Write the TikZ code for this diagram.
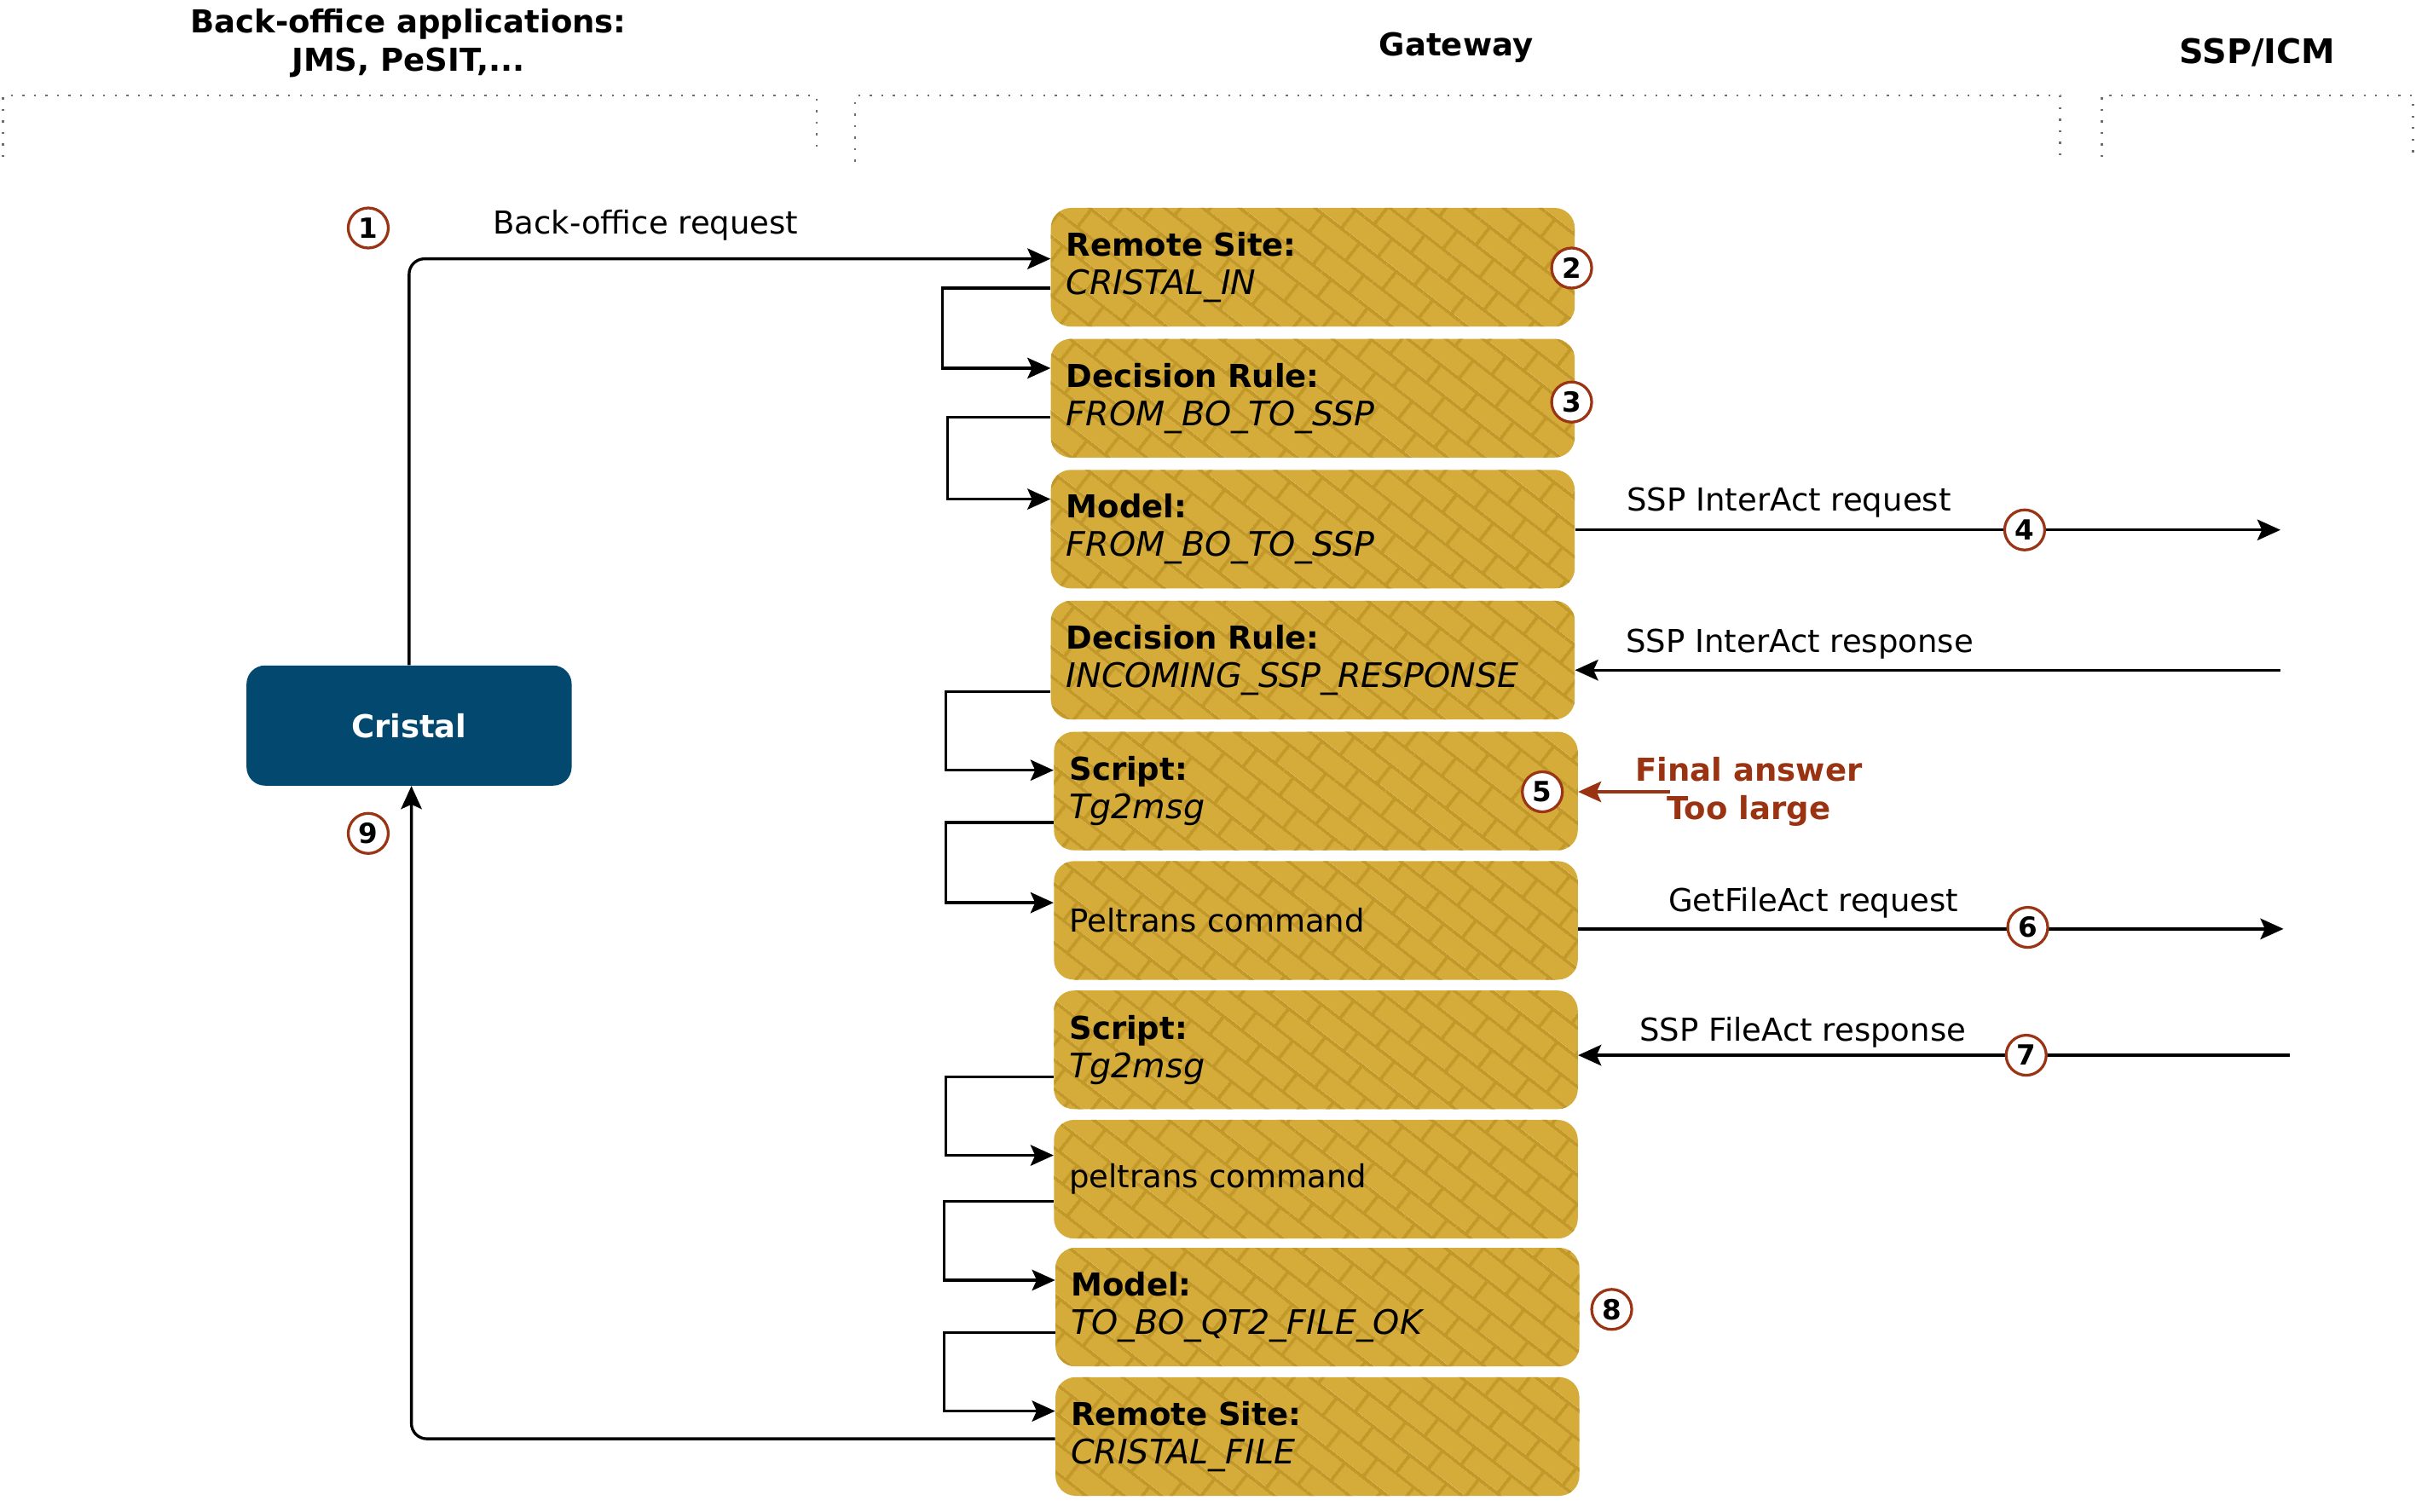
\documentclass[tikz,border=0pt]{standalone}
\usepackage{fontspec}
\setmainfont{DejaVu Sans}
\usetikzlibrary{arrows.meta,patterns.meta,calc}
\definecolor{gold}{HTML}{D5AC3A}
\definecolor{goldline}{HTML}{C29829}
\definecolor{cristalblue}{HTML}{03486F}
\definecolor{circred}{HTML}{9A3414}
\definecolor{alertred}{HTML}{993311}
\definecolor{lanegray}{HTML}{6E6E6E}

\tikzdeclarepattern{
  name=goldbricks,
  type=uncolored,
  bottom left={(0pt,0pt)},
  top right={(30pt,30pt)},
  tile size={(30pt,30pt)},
  tile transformation={rotate=-38},
  code={
    \draw[line width=2.2pt] (0pt,7.5pt) -- (30pt,7.5pt);
    \draw[line width=2.2pt] (0pt,22.5pt) -- (30pt,22.5pt);
    \draw[line width=2.2pt] (7.5pt,7.5pt) -- (7.5pt,22.5pt);
    \draw[line width=2.2pt] (22.5pt,22.5pt) -- (22.5pt,30pt);
    \draw[line width=2.2pt] (22.5pt,0pt) -- (22.5pt,7.5pt);
  }
}

\newcommand{\itl}[1]{{\fontsize{21.9pt}{25pt}\selectfont\itshape #1}}

\begin{document}
\begin{tikzpicture}[x=1pt,y=-1pt,
  font=\fontsize{20.5pt}{25pt}\selectfont,
  gbox/.style={rectangle, rounded corners=13pt, minimum width=340pt, minimum height=77pt,
    text width=320pt, align=left, inner sep=0pt,
    preaction={fill=gold}, pattern=goldbricks, pattern color=goldline},
  numc/.style={circle, draw=circred, line width=1.8pt, fill=white, minimum size=26pt,
    inner sep=0pt, font=\fontsize{18pt}{20pt}\selectfont\bfseries},
  arr/.style={-{Stealth[length=15pt,width=13.5pt,inset=3pt]}, line width=1.85pt},
  lane/.style={lanegray, line width=1.3pt, dash pattern=on 1.3pt off 6.2pt},
  hdr/.style={font=\fontsize{20.5pt}{25pt}\selectfont\bfseries, align=center},
  lbl/.style={inner sep=0pt}
]
\useasboundingbox (0,0) rectangle (1568,981.5);

% lanes
\draw[lane] (2,102) -- (2,62) -- (530,62) -- (530,100);
\draw[lane] (555,105) -- (555,62) -- (1337,62) -- (1337,105);
\draw[lane] (1364,102) -- (1364,62) -- (1566,62) -- (1566,102);

% headers
\node[hdr] (hbo) at (265,28) {Back-office applications:\\JMS, PeSIT,...};
\node[hdr] (hgw) at (945,31) {Gateway};
\node[hdr, font=\fontsize{22pt}{25pt}\selectfont\bfseries] (hssp) at (1465,34) {SSP/ICM};

% Cristal
\node[rectangle, rounded corners=12pt, fill=cristalblue, minimum width=211pt, minimum height=78pt,
  text=white, font=\fontsize{20.5pt}{25pt}\selectfont\bfseries] (c) at (265.5,471) {Cristal};

% gateway boxes
\node[gbox] (b1) at (852,173.5) {\textbf{Remote Site:}\\\itl{CRISTAL\_IN}};
\node[gbox] (b2) at (852,258.5) {\textbf{Decision Rule:}\\\itl{FROM\_BO\_TO\_SSP}};
\node[gbox] (b3) at (852,343.5) {\textbf{Model:}\\\itl{FROM\_BO\_TO\_SSP}};
\node[gbox] (b4) at (852,428.5) {\textbf{Decision Rule:}\\\itl{INCOMING\_SSP\_RESPONSE}};
\node[gbox] (b5) at (854,513.5) {\textbf{Script:}\\\itl{Tg2msg}};
\node[gbox] (b6) at (854,597.5) {Peltrans command};
\node[gbox] (b7) at (854,681.5) {\textbf{Script:}\\\itl{Tg2msg}};
\node[gbox] (b8) at (854,765.5) {peltrans command};
\node[gbox] (b9) at (855,848.5) {\textbf{Model:}\\\itl{TO\_BO\_QT2\_FILE\_OK}};
\node[gbox] (b10) at (855,932.5) {\textbf{Remote Site:}\\\itl{CRISTAL\_FILE}};

% internal loops
\draw[arr] ([yshift=-13.5pt]b1.west) -- ++(-70,0) |- ([yshift=19.5pt]b2.west);
\draw[arr] ([yshift=-12.5pt]b2.west) -- ++(-67,0) |- ([yshift=19.5pt]b3.west);
\draw[arr] ([yshift=-20.5pt]b4.west) -- ++(-68,0) |- ([yshift=13.5pt]b5.west);
\draw[arr] ([yshift=-20.5pt]b5.west) -- ++(-70,0) |- ([yshift=11.5pt]b6.west);
\draw[arr] ([yshift=-17.5pt]b7.west) -- ++(-70,0) |- ([yshift=15.5pt]b8.west);
\draw[arr] ([yshift=-14.5pt]b8.west) -- ++(-71,0) |- ([yshift=17.5pt]b9.west);
\draw[arr] ([yshift=-16.5pt]b9.west) -- ++(-72,0) |- ([yshift=16.5pt]b10.west);

% Cristal connections
\draw[arr, rounded corners=10pt] (c.north) |- ([yshift=5.5pt]b1.west);
\draw[arr, rounded corners=10pt] ([yshift=-1.5pt]b10.west) -| ([xshift=1.5pt]c.south);

% external connections
\coordinate (r4) at (1480,344);
\coordinate (r5) at (1480,435);
\coordinate (r6) at (1482,603);
\coordinate (r7) at (1486,685);
\coordinate (rfa) at (1084,514);
\draw[arr] (b3.east |- r4) -- (r4);
\draw[arr] (r5) -- (r5 -| b4.east);
\draw[arr] (b6.east |- r6) -- (r6);
\draw[arr] (r7) -- (r7 -| b7.east);
\draw[arr, alertred] (rfa) -- (rfa -| b5.east);

% labels
\node[lbl] (l1) at (419,146) {Back-office request};
\node[lbl] (l4) at (1161,326) {SSP InterAct request};
\node[lbl] (l5) at (1168,418) {SSP InterAct response};
\node[lbl] (l6) at (1177,586) {GetFileAct request};
\node[lbl] (l7) at (1170,670) {SSP FileAct response};
\node[align=center, text=alertred, font=\fontsize{20.5pt}{25pt}\selectfont\bfseries] (lfa) at (1135,514) {Final answer\\Too large};

% numbers
\node[numc] (n1) at (239,148) {1};
\node[numc] (n2) at (1020,174) {2};
\node[numc] (n3) at (1020,261) {3};
\node[numc] (n4) at (1314,344) {4};
\node[numc] (n5) at (1001,514) {5};
\node[numc] (n6) at (1316,602) {6};
\node[numc] (n7) at (1315,685) {7};
\node[numc] (n8) at (1046,850) {8};
\node[numc] (n9) at (239,541) {9};
\end{tikzpicture}
\end{document}
